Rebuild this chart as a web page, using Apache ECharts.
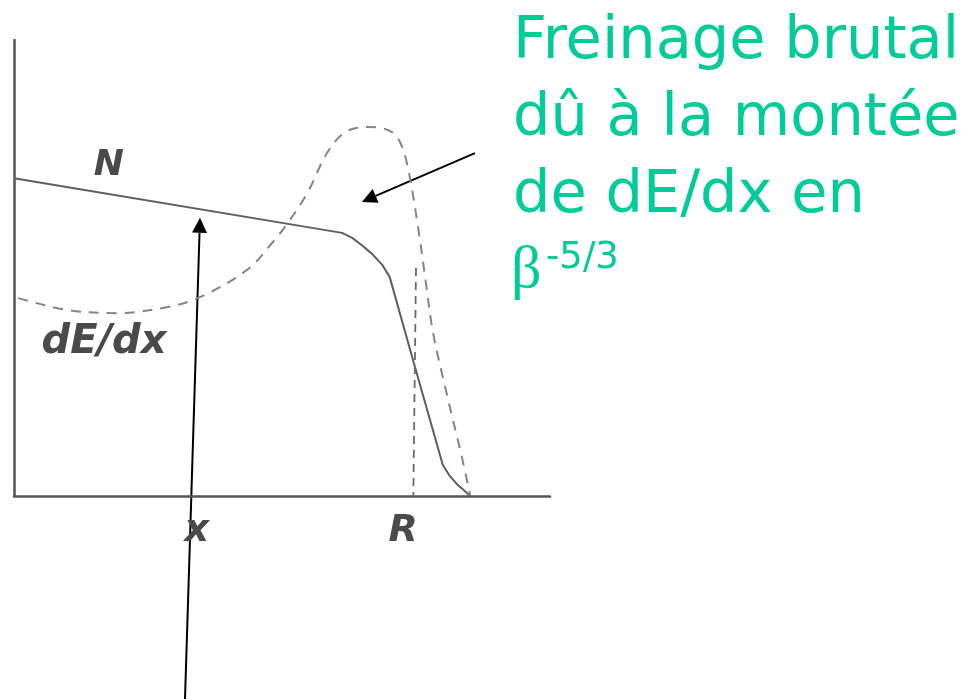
<!DOCTYPE html>
<html>
<head>
<meta charset="utf-8">
<script src="https://cdn.jsdelivr.net/npm/echarts@6/dist/echarts.min.js"></script>
<style>
  html, body { margin: 0; padding: 0; background: #ffffff; }
  #main { width: 971px; height: 699px; }
</style>
</head>
<body>
<div id="main"></div>
<script>
// Number of particles N along the penetration depth x (solid curve)
const nX = [0, 6.12, 6.31, 6.49, 6.68, 6.87, 7.01, 7.44, 8.00, 8.13, 8.28, 8.41, 8.51];
const nY = [6.97, 5.77, 5.66, 5.50, 5.31, 5.07, 4.80, 3.00, 0.68, 0.44, 0.24, 0.11, 0];

// Stopping power dE/dx along x (dashed curve, Bragg peak near the end of range)
const dedxX = [0.08, 0.99, 1.92, 2.85, 3.47, 4.35, 4.83, 5.09, 5.47, 5.84, 6.18, 6.59, 6.92, 7.15, 7.33, 7.54, 7.69, 7.82, 8.10, 8.36, 8.51];
const dedxY = [4.34, 4.08, 4.01, 4.14, 4.36, 4.96, 5.57, 5.96, 6.64, 7.52, 7.98, 8.09, 8.05, 7.87, 7.30, 5.88, 4.63, 3.57, 2.11, 0.83, 0.02];

// Mean range R (vertical dashed marker)
const rangeX = [7.50, 7.45];
const rangeY = [5.00, 0];

// Axis and curve labels
const axisLabels = ['x', 'R'];
const axisLabelX = [3.41, 7.26];
const curveLabels = ['N', 'dE/dx'];
const curveLabelPos = [[1.77, 7.24], [1.68, 3.36]];
const curveLabelSize = [36, 40];

// Annotation arrows: [tail, head] in data units
const arrows = [
  [[8.60, 7.52], [6.49, 6.45]],
  [[3.19, -4.45], [3.47, 6.10]]
];

// Annotation text
const noteLines = ['Freinage brutal', 'dû à la montée', 'de dE/dx en'];
const noteBeta = 'β';
const noteExponent = '-5/3';

const zip = (xs, ys) => xs.map((v, i) => [v, ys[i]]);

const chart = echarts.init(document.getElementById('main'), null, { renderer: 'canvas' });

const inkDark = '#4a4a4a';
const green = '#00cc99';

chart.setOption({
  backgroundColor: '#ffffff',
  animation: false,
  grid: { left: 14, top: 40, width: 536, height: 456, containLabel: false },
  xAxis: {
    type: 'value', min: 0, max: 10,
    axisLine: { show: true, lineStyle: { color: '#555555', width: 2.5 } },
    axisTick: { show: false }, axisLabel: { show: false }, splitLine: { show: false }
  },
  yAxis: {
    type: 'value', min: 0, max: 10,
    axisLine: { show: true, lineStyle: { color: '#555555', width: 2.5 } },
    axisTick: { show: false }, axisLabel: { show: false }, splitLine: { show: false }
  },
  series: [
    {
      name: 'N', type: 'line', data: zip(nX, nY), showSymbol: false, smooth: false,
      lineStyle: { color: '#5e5e5e', width: 2, join: 'round' }, clip: false
    },
    {
      name: 'dE/dx', type: 'line', data: zip(dedxX, dedxY), showSymbol: false, smooth: 0.35,
      lineStyle: { color: '#858585', width: 2, type: [10, 8] }, clip: false
    },
    {
      name: 'R', type: 'line', data: zip(rangeX, rangeY), showSymbol: false,
      lineStyle: { color: '#6a6a6a', width: 1.8, type: [8, 6] }, clip: false
    }
  ]
});

function buildGraphics() {
  const toPx = (p) => chart.convertToPixel({ gridIndex: 0 }, p);
  const els = [];

  // Arrows
  arrows.forEach(([tail, head]) => {
    const a = toPx(tail), b = toPx(head);
    const dx = b[0] - a[0], dy = b[1] - a[1];
    const len = Math.hypot(dx, dy);
    const ux = dx / len, uy = dy / len;
    const headLen = 15, headHalf = 7.5;
    const bx = b[0] - ux * headLen, by = b[1] - uy * headLen;
    els.push({
      type: 'line', silent: true,
      shape: { x1: a[0], y1: a[1], x2: bx, y2: by },
      style: { stroke: '#000000', lineWidth: 2 }
    });
    els.push({
      type: 'polygon', silent: true,
      shape: { points: [[b[0], b[1]], [bx - uy * headHalf, by + ux * headHalf], [bx + uy * headHalf, by - ux * headHalf]] },
      style: { fill: '#000000' }
    });
  });

  // Curve labels
  curveLabels.forEach((t, i) => {
    const p = toPx(curveLabelPos[i]);
    els.push({
      type: 'text', silent: true, x: p[0], y: p[1],
      style: {
        text: t, fill: inkDark, font: 'italic bold ' + curveLabelSize[i] + 'px "DejaVu Sans"',
        align: 'center', verticalAlign: 'middle'
      }
    });
  });

  // Axis labels under the x axis
  axisLabels.forEach((t, i) => {
    const p = toPx([axisLabelX[i], -0.77]);
    els.push({
      type: 'text', silent: true, x: p[0], y: p[1],
      style: {
        text: t, fill: inkDark, font: 'italic bold 38px "DejaVu Sans"',
        align: 'center', verticalAlign: 'middle'
      }
    });
  });

  // Green annotation
  const lineMid = [43, 120, 197];
  noteLines.forEach((t, i) => {
    els.push({
      type: 'text', silent: true, x: 513, y: lineMid[i],
      style: { text: t, fill: green, font: '59px "DejaVu Sans"', align: 'left', verticalAlign: 'middle' }
    });
  });
  els.push({
    type: 'text', silent: true, x: 511, y: 271,
    style: { text: noteBeta, fill: green, font: '60px "Liberation Serif"', align: 'left', verticalAlign: 'middle' }
  });
  els.push({
    type: 'text', silent: true, x: 546, y: 258,
    style: { text: noteExponent, fill: green, font: '37px "DejaVu Sans"', align: 'left', verticalAlign: 'middle' }
  });

  chart.setOption({ graphic: { elements: els } });
}

buildGraphics();
</script>
</body>
</html>
